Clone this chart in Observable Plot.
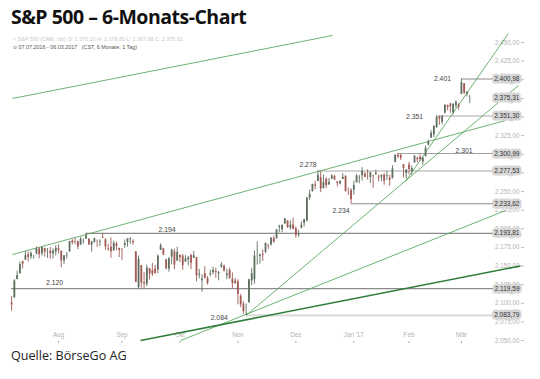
<!DOCTYPE html>
<html><head><meta charset="utf-8">
<script src="https://cdn.jsdelivr.net/npm/d3@7"></script>
<script src="https://cdn.jsdelivr.net/npm/@observablehq/plot@0.6"></script>
<style>
body{margin:0;background:#fff;}
#wrap{position:relative;width:540px;height:379px;overflow:hidden;font-family:"Open Sans",sans-serif;background:#fff;}
#title{position:absolute;left:11px;top:3px;font-size:19.5px;font-weight:700;color:#111;letter-spacing:-0.5px;white-space:nowrap;}
#sub1{position:absolute;left:13px;top:36px;font:5.4px "Liberation Sans",Arial,sans-serif;color:#c9c9c9;white-space:nowrap;}
#sub2{position:absolute;left:13px;top:43.5px;font:5.4px "Liberation Sans",Arial,sans-serif;color:#555;white-space:nowrap;}
#chart{position:absolute;left:0;top:30px;}
#src{position:absolute;left:11px;top:347px;font-size:12.6px;color:#222;white-space:nowrap;}
</style></head>
<body>
<div id="wrap">
  <div id="chart"></div>
  <div id="title">S&amp;P 500 – 6-Monats-Chart</div>
  <div id="sub1">≈ S&amp;P 500 (CME, Idx)  O: 2.375,23  H: 2.378,80  L: 2.367,98  C: 2.375,31</div>
  <div id="sub2">⊙ 07.07.2016 - 06.03.2017 &nbsp; (CST, 6 Monate, 1 Tag)</div>
  <div id="src">Quelle: BörseGo AG</div>
</div>
<script>
// ---- data ----
const dates = [
"2016-07-07","2016-07-08","2016-07-11","2016-07-12","2016-07-13","2016-07-14","2016-07-15","2016-07-18","2016-07-19","2016-07-20","2016-07-21","2016-07-22","2016-07-25","2016-07-26","2016-07-27","2016-07-28","2016-07-29",
"2016-08-01","2016-08-02","2016-08-03","2016-08-04","2016-08-05","2016-08-08","2016-08-09","2016-08-10","2016-08-11","2016-08-12","2016-08-15","2016-08-16","2016-08-17","2016-08-18","2016-08-19","2016-08-22","2016-08-23","2016-08-24","2016-08-25","2016-08-26","2016-08-29","2016-08-30","2016-08-31",
"2016-09-01","2016-09-02","2016-09-06","2016-09-07","2016-09-08","2016-09-09","2016-09-12","2016-09-13","2016-09-14","2016-09-15","2016-09-16","2016-09-19","2016-09-20","2016-09-21","2016-09-22","2016-09-23","2016-09-26","2016-09-27","2016-09-28","2016-09-29","2016-09-30",
"2016-10-03","2016-10-04","2016-10-05","2016-10-06","2016-10-07","2016-10-10","2016-10-11","2016-10-12","2016-10-13","2016-10-14","2016-10-17","2016-10-18","2016-10-19","2016-10-20","2016-10-21","2016-10-24","2016-10-25","2016-10-26","2016-10-27","2016-10-28","2016-10-31",
"2016-11-01","2016-11-02","2016-11-03","2016-11-04","2016-11-07","2016-11-08","2016-11-09","2016-11-10","2016-11-11","2016-11-14","2016-11-15","2016-11-16","2016-11-17","2016-11-18","2016-11-21","2016-11-22","2016-11-23","2016-11-25","2016-11-28","2016-11-29","2016-11-30",
"2016-12-01","2016-12-02","2016-12-05","2016-12-06","2016-12-07","2016-12-08","2016-12-09","2016-12-12","2016-12-13","2016-12-14","2016-12-15","2016-12-16","2016-12-19","2016-12-20","2016-12-21","2016-12-22","2016-12-23","2016-12-27","2016-12-28","2016-12-29","2016-12-30",
"2017-01-03","2017-01-04","2017-01-05","2017-01-06","2017-01-09","2017-01-10","2017-01-11","2017-01-12","2017-01-13","2017-01-17","2017-01-18","2017-01-19","2017-01-20","2017-01-23","2017-01-24","2017-01-25","2017-01-26","2017-01-27","2017-01-30","2017-01-31",
"2017-02-01","2017-02-02","2017-02-03","2017-02-06","2017-02-07","2017-02-08","2017-02-09","2017-02-10","2017-02-13","2017-02-14","2017-02-15","2017-02-16","2017-02-17","2017-02-21","2017-02-22","2017-02-23","2017-02-24","2017-02-27","2017-02-28",
"2017-03-01","2017-03-02","2017-03-03","2017-03-06"];
const open = [
2100.4,2107.0,2131.7,2139.5,2155.8,2157.9,2165.1,2162.0,2163.8,2166.1,2172.9,2166.5,2173.7,2169.0,2169.8,2166.1,2168.8,
2173.2,2169.9,2156.8,2163.5,2168.8,2183.8,2182.2,2182.8,2178.0,2183.7,2186.1,2186.2,2177.8,2181.9,2184.2,2181.6,2187.8,2185.1,2173.3,2175.1,2170.2,2179.5,2173.6,
2171.3,2177.5,2181.6,2185.2,2182.8,2169.1,2120.9,2150.5,2127.9,2125.4,2146.5,2144.0,2145.9,2144.6,2170.9,2173.3,2158.5,2146.0,2161.9,2168.9,2156.5,
2164.3,2163.4,2155.2,2158.2,2164.2,2160.4,2161.4,2137.7,2130.3,2139.7,2133.0,2138.3,2140.8,2142.5,2139.4,2148.5,2149.7,2137.0,2144.1,2132.2,2129.8,
2128.7,2109.4,2098.8,2083.8,2100.6,2129.9,2131.6,2167.5,2162.7,2165.6,2168.3,2177.5,2178.6,2186.9,2186.4,2201.6,2198.6,2206.3,2210.2,2200.8,2205.0,
2200.2,2191.1,2200.7,2207.3,2210.7,2241.1,2249.7,2258.8,2263.3,2268.4,2253.8,2266.8,2259.2,2266.5,2270.5,2262.9,2260.3,2266.2,2270.2,2249.5,2251.6,
2251.6,2261.6,2268.2,2271.1,2273.6,2269.0,2268.6,2271.1,2272.7,2269.1,2269.1,2271.9,2270.0,2267.8,2267.9,2288.9,2298.6,2299.0,2286.0,2274.0,
2285.6,2276.7,2288.5,2294.3,2295.9,2289.6,2296.7,2312.3,2321.7,2326.1,2335.6,2349.6,2343.0,2354.9,2365.2,2367.5,2355.7,2365.2,2366.1,
2380.1,2394.8,2380.9,2375.2];
const high = [
2109.1,2131.7,2143.2,2155.4,2156.5,2169.1,2169.1,2169.0,2164.6,2175.6,2174.6,2175.1,2173.7,2173.5,2175.0,2172.9,2177.1,
2178.3,2170.2,2163.8,2168.2,2182.9,2185.4,2187.7,2183.4,2188.5,2186.3,2193.8,2186.2,2183.1,2187.0,2185.0,2185.2,2193.4,2186.7,2179.0,2187.9,2183.5,2182.3,2173.8,
2173.6,2184.9,2186.6,2187.9,2185.0,2169.1,2163.3,2150.5,2141.3,2151.3,2146.5,2153.6,2150.8,2165.1,2180.0,2173.8,2158.5,2161.1,2172.4,2172.7,2175.3,
2164.4,2165.5,2164.0,2162.9,2165.9,2169.6,2161.6,2145.4,2138.2,2149.2,2135.7,2144.4,2148.4,2147.2,2142.6,2154.8,2151.4,2145.7,2147.1,2140.7,2133.3,
2131.5,2111.8,2102.6,2099.1,2132.0,2146.9,2170.1,2182.3,2165.9,2171.4,2180.8,2179.2,2188.1,2189.9,2198.7,2204.8,2204.7,2213.4,2211.1,2210.5,2214.1,
2202.6,2198.0,2209.4,2212.8,2241.6,2251.7,2259.8,2264.0,2277.5,2276.2,2272.1,2268.1,2267.5,2272.6,2271.2,2263.2,2263.8,2273.8,2271.3,2254.5,2253.6,
2263.9,2273.0,2271.5,2282.1,2275.5,2279.3,2275.3,2271.8,2278.7,2272.1,2272.0,2274.3,2277.0,2271.8,2284.6,2299.6,2301.0,2299.0,2286.0,2279.1,
2289.1,2284.0,2298.3,2296.2,2299.4,2295.9,2311.1,2319.2,2331.6,2337.6,2351.3,2351.3,2351.2,2366.7,2365.9,2368.3,2367.3,2371.5,2367.8,
2401.0,2394.8,2383.9,2378.8];
const low = [
2089.4,2107.0,2131.7,2139.5,2146.0,2157.9,2155.5,2159.1,2159.0,2164.9,2159.8,2163.2,2161.9,2160.2,2159.1,2159.7,2163.5,
2166.2,2147.6,2152.0,2159.1,2168.8,2178.5,2178.6,2172.0,2178.0,2179.4,2186.1,2178.1,2168.5,2180.5,2175.1,2176.0,2186.8,2171.3,2169.7,2160.4,2170.2,2170.4,2161.4,
2157.1,2173.6,2175.1,2179.1,2177.9,2127.8,2119.1,2120.3,2119.9,2122.4,2131.2,2135.9,2139.2,2139.6,2170.9,2164.0,2145.0,2141.6,2151.8,2145.2,2156.5,
2154.8,2144.0,2155.2,2150.3,2144.9,2160.4,2128.8,2132.8,2114.7,2133.0,2124.4,2135.5,2138.2,2133.4,2130.1,2146.9,2141.9,2131.6,2132.5,2119.4,2125.5,
2097.9,2094.0,2085.2,2083.8,2100.6,2123.6,2125.4,2151.2,2152.5,2156.1,2166.4,2172.2,2176.6,2180.4,2186.4,2194.5,2194.5,2206.3,2200.4,2198.2,2198.8,
2187.4,2188.4,2200.0,2202.5,2208.9,2237.6,2249.2,2252.4,2263.3,2248.4,2253.8,2254.2,2258.2,2266.5,2265.2,2256.1,2258.8,2266.2,2249.1,2244.6,2233.6,
2245.1,2261.6,2260.5,2264.1,2268.8,2265.3,2260.8,2254.3,2271.5,2262.8,2263.4,2258.4,2265.0,2257.0,2266.7,2288.9,2294.1,2291.6,2268.0,2267.2,
2272.4,2271.7,2287.9,2288.6,2290.2,2285.4,2296.6,2311.1,2321.4,2322.2,2334.8,2338.9,2339.6,2354.9,2358.3,2355.1,2352.9,2361.9,2359.0,
2380.1,2380.2,2376.9,2368.0];
const close = [
2097.9,2129.9,2137.2,2152.1,2152.4,2163.8,2161.7,2166.9,2163.8,2173.0,2165.2,2175.0,2168.5,2169.2,2166.6,2170.1,2173.6,
2170.8,2157.0,2163.8,2164.3,2182.9,2180.9,2181.7,2175.5,2185.8,2184.1,2190.2,2178.2,2182.2,2187.0,2183.9,2182.6,2186.9,2175.4,2172.5,2169.0,2180.4,2176.1,2170.9,
2170.9,2180.0,2186.5,2186.2,2181.3,2128.0,2159.0,2127.0,2125.8,2147.3,2139.2,2139.1,2139.8,2163.1,2177.2,2164.7,2146.1,2159.9,2171.4,2151.1,2168.3,
2161.2,2150.5,2159.7,2160.8,2153.7,2163.7,2136.7,2139.2,2132.6,2133.0,2126.5,2139.6,2144.3,2141.3,2141.2,2151.3,2143.2,2139.4,2133.0,2126.4,2126.2,
2111.7,2097.9,2088.7,2085.2,2131.5,2139.6,2163.3,2167.5,2164.4,2164.2,2180.4,2176.9,2187.1,2181.9,2198.2,2202.9,2204.7,2213.4,2201.7,2204.7,2199.0,
2191.1,2192.0,2204.7,2212.2,2241.4,2246.2,2259.5,2257.0,2271.7,2253.3,2262.0,2258.1,2262.5,2270.8,2265.2,2261.0,2263.8,2268.9,2249.9,2249.3,2238.8,
2257.8,2270.8,2269.0,2277.0,2268.9,2268.9,2275.3,2270.4,2274.6,2267.9,2271.9,2263.7,2271.3,2265.2,2280.1,2298.4,2296.7,2294.7,2280.9,2278.9,
2279.6,2281.0,2297.4,2292.6,2293.1,2294.7,2307.9,2316.1,2328.3,2337.6,2349.3,2347.2,2351.2,2365.4,2362.8,2363.8,2367.3,2369.8,2363.6,
2396.0,2381.9,2383.1,2375.31];

const monthLabels = ["Aug","Sep","Okt","Nov","Dez","Jan '17","Feb","Mär"];
const yTicks = [2050,2075,2100,2125,2150,2175,2200,2225,2250,2275,2300,2325,2350,2375,2400,2425,2450];

// support / resistance levels and the candle (date) where each starts
const levelValues = [2400.98, 2351.30, 2300.99, 2277.53, 2233.62, 2193.81, 2119.59, 2083.79];
const levelDates  = ["2017-03-01","2017-02-15","2017-01-26","2016-12-13","2016-12-30","2016-08-15","2016-07-07","2016-11-04"];
const lastClose = 2375.31;

// trend lines: start (candle index, price) -> end (candle index, price)
const trendStartIdx   = [0.3, 0.3, 46.7, 61.3, 85, 142.7];
const trendStartPrice = [2374.8, 2165.4, 2050, 2050, 2083.79, 2263.4];
const trendEndIdx     = [116.3, 179, 184.4, 179, 183.7, 180];
const trendEndPrice   = [2459.4, 2345.3, 2150.1, 2224.5, 2392.3, 2462.1];

// ---- build ----
const rows = dates.map((d, i) => ({i, date: d, open: open[i], high: high[i], low: low[i], close: close[i]}));
const monthIdx = [];
dates.forEach((d, i) => { if (i > 0 && d.slice(0,7) !== dates[i-1].slice(0,7)) monthIdx.push(i); });
const loc = d3.formatLocale({decimal: ",", thousands: ".", grouping: [3], currency: ["", ""]});
const f2 = loc.format(",.2f"), f0 = loc.format(",.0f");
const boxes = [...levelValues, lastClose];
// tick labels that sit fully under a highlighted price box are hidden (as in the original)
const visibleTicks = yTicks.filter(t => !boxes.some(b => Math.abs(b - t) < 4));
const trends = trendStartIdx.map((x1, k) => ({x1, y1: trendStartPrice[k], x2: trendEndIdx[k], y2: trendEndPrice[k], k}));

const xDom = [-0.4, 184.4];
// styling of the level lines and label placement (pixels), same order as levelValues
const levelStyles = [
  {stroke: "#8c8c8c", w: 1.1, dx: -19, dy: 0},
  {stroke: "#c6c6c6", w: 1.3, dx: -22, dy: 1},
  {stroke: "#a0a0a0", w: 1.1, dx: 66, dy: -3},
  {stroke: "#d3d3d3", w: 2, dx: -10, dy: -6},
  {stroke: "#8c8c8c", w: 1.1, dx: -10, dy: 7},
  {stroke: "#8c8c8c", w: 1.1, dx: 81, dy: -4},
  {stroke: "#8c8c8c", w: 1.1, dx: 43, dy: -6},
  {stroke: "#dcdcdc", w: 2.2, dx: -27, dy: 2}
];
const levels = levelValues.map((v, k) => ({v, from: dates.indexOf(levelDates[k]), label: f0(v), s: levelStyles[k]}));
const up = "#5f6f5f", down = "#a25a55";
const tickFont = "Liberation Sans, Arial, sans-serif";

const marks = [
  Plot.text(visibleTicks, {y: d => d, text: d => f2(d), frameAnchor: "right", textAnchor: "end", dx: -1, fill: "#b3b3b3", fontSize: 6.3}),
  Plot.axisY(yTicks, {anchor: "right", tickSize: 3, tickFormat: () => "", stroke: "#bbb", label: null}),
  Plot.text(monthIdx, {x: d => d, text: (d, k) => monthLabels[k], frameAnchor: "bottom", dy: -9, fill: "#b3b3b3", fontSize: 6.3}),
  Plot.axisX(monthIdx, {anchor: "bottom", tickSize: 2, tickFormat: () => "", dy: -4, stroke: "#aaa", label: null}),
  ...levels.map(l => Plot.ruleY([l], {y: "v", x1: "from", x2: () => xDom[1], stroke: l.s.stroke, strokeWidth: l.s.w})),
  Plot.link(trends.filter(t => t.k !== 2), {x1: "x1", y1: "y1", x2: "x2", y2: "y2", stroke: "#5fa862", strokeWidth: 0.9}),
  Plot.link(trends.filter(t => t.k === 2), {x1: "x1", y1: "y1", x2: "x2", y2: "y2", stroke: "#2f7d3a", strokeWidth: 1.6}),
  Plot.ruleX(rows.filter(r => r.close >= r.open), {x: "i", y1: "low", y2: "high", stroke: up, strokeWidth: 0.9}),
  Plot.ruleX(rows.filter(r => r.close < r.open), {x: "i", y1: "low", y2: "high", stroke: down, strokeWidth: 0.9}),
  Plot.ruleX(rows.filter(r => r.close >= r.open), {x: "i", y1: "open", y2: "close", stroke: up, strokeWidth: 1.8}),
  Plot.ruleX(rows.filter(r => r.close < r.open), {x: "i", y1: "open", y2: "close", stroke: down, strokeWidth: 1.8}),
  ...levels.map(l => Plot.text([l], {x: "from", y: "v", text: "label", dx: l.s.dx, dy: l.s.dy, fill: "#444", fontSize: 6.8})),
  Plot.text(boxes, {y: d => d, text: d => f2(d), frameAnchor: "right", textAnchor: "end", dx: -1, fill: "#333", fontSize: 6.5, stroke: "#d6d6d6", strokeWidth: 5, strokeLinejoin: "round", paintOrder: "stroke"})
];

const chart = Plot.plot({
  width: 540, height: 315, marginTop: 2, marginBottom: 0, marginLeft: 10, marginRight: 20,
  x: {domain: xDom, axis: null},
  y: {domain: [2043.3, 2463.4], axis: null},
  style: {fontFamily: tickFont, background: "transparent", overflow: "visible"},
  marks
});
document.getElementById("chart").appendChild(chart);
</script>
</body></html>
